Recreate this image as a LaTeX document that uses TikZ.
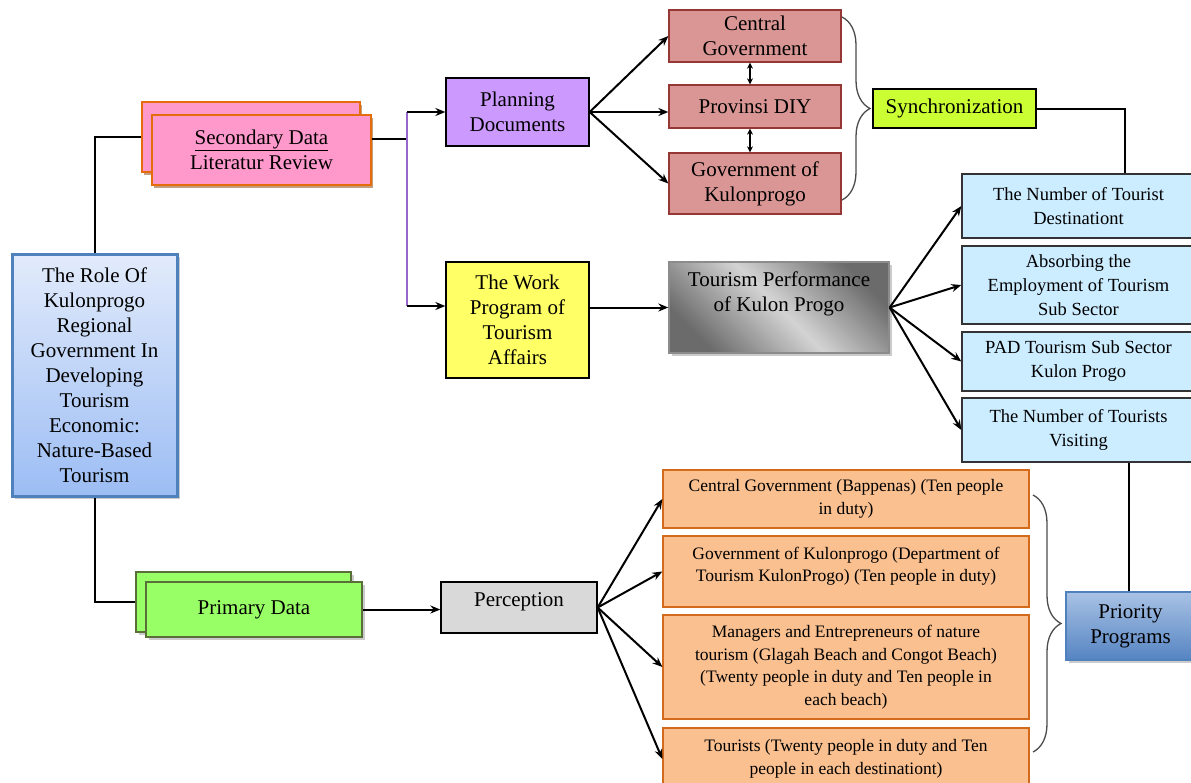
\documentclass[tikz,border=0pt]{standalone}
\usepackage{fontspec}
\setmainfont{Liberation Serif}
\usetikzlibrary{arrows.meta,shadows,decorations.pathreplacing,calc}
\definecolor{mainb}{HTML}{4F81BD}
\definecolor{maintop}{HTML}{E2EBFB}
\definecolor{mainbot}{HTML}{9CBDF4}
\definecolor{pinkf}{HTML}{FF99CC}
\definecolor{orgline}{HTML}{E46C0A}
\definecolor{greenf}{HTML}{99FF66}
\definecolor{greenl}{HTML}{5A6E3A}
\definecolor{purf}{HTML}{CC99FF}
\definecolor{purl}{HTML}{9966CC}
\definecolor{redf}{HTML}{D99694}
\definecolor{redl}{HTML}{953735}
\definecolor{syncf}{HTML}{CCFF33}
\definecolor{bluef}{HTML}{CCECFF}
\definecolor{yelf}{HTML}{FFFF66}
\definecolor{percf}{HTML}{D9D9D9}
\definecolor{orf}{HTML}{FAC090}
\definecolor{orl}{HTML}{D46A1C}
\definecolor{priotop}{HTML}{A9C2E5}
\definecolor{priobot}{HTML}{5584C2}
\begin{document}
\begin{tikzpicture}[x=1pt,y=-1pt,
  box/.style={draw=black, line width=1.3pt, align=center, inner sep=1pt,
    font=\fontsize{21}{25}\selectfont},
  bluebox/.style={box, fill=bluef, draw=black!80, font=\fontsize{18.5}{24}\selectfont},
  orbox/.style={box, fill=orf, draw=orl, font=\fontsize{17.5}{22.5}\selectfont},
  redbox/.style={box, fill=redf, draw=redl},
  shad/.style={drop shadow={shadow xshift=3pt, shadow yshift=-3pt, fill=black!40}},
  arr/.style={-{Stealth[length=10pt,width=8pt]}, line width=2pt},
  darr/.style={{Stealth[length=6pt,width=6pt]}-{Stealth[length=6pt,width=6pt]}, line width=1.6pt},
  conn/.style={line width=2pt},
  bracestyle/.style={decorate, decoration={brace, amplitude=28pt}, draw=black!70, line width=1.3pt}
]
\useasboundingbox (0,0) rectangle (1191,782);
\fill[white] (0,0) rectangle (1191,782);

% main box
\node[box, draw=mainb, line width=3pt, top color=maintop, bottom color=mainbot, shad,
  minimum width=165pt, minimum height=242pt] (main) at (94.5,375)
  {The Role Of\\Kulonprogo\\Regional\\Government In\\Developing\\Tourism\\Economic:\\Nature-Based\\Tourism};

% secondary data
\node[box, fill=pinkf, draw=orgline, drop shadow={shadow xshift=2pt, shadow yshift=-3pt, fill=orgline!60!black},
  minimum width=218pt, minimum height=70pt] (secB) at (251,137) {};
\node[box, fill=pinkf, draw=orgline, drop shadow={shadow xshift=2pt, shadow yshift=-3pt, fill=orgline!60!black},
  minimum width=219pt, minimum height=70pt] (secF) at (261.5,150)
  {\underline{Secondary Data}\\Literatur Review};

% primary data
\node[box, fill=greenf, draw=greenl, shad, minimum width=215pt, minimum height=60pt] (priB) at (243.5,602) {};
\node[box, fill=greenf, draw=greenl, shad, minimum width=216pt, minimum height=55pt] (priF) at (254,609.5) {Primary Data};

% planning and government
\node[box, fill=purf, minimum width=143pt, minimum height=68pt] (plan) at (517.5,112) {Planning\\Documents};
\node[redbox, minimum width=172pt, minimum height=52pt] (cg) at (755,36) {Central\\Government};
\node[redbox, minimum width=172pt, minimum height=43pt] (pd) at (755,106.5) {Provinsi DIY};
\node[redbox, minimum width=172pt, minimum height=61pt] (gk) at (755,183.5) {Government of\\Kulonprogo};
\node[box, fill=syncf, minimum width=163pt, minimum height=39pt] (sync) at (954.5,108.5) {Synchronization};

% work program & performance
\node[box, draw=black!45, shading=axis, top color=black!58, bottom color=black!58, middle color=black!17,
  shading angle=-45, shad, minimum width=220pt, minimum height=91pt] (tp) at (779,307.5)
  {Tourism Performance\\of Kulon Progo\\\strut};
\node[box, fill=yelf, minimum width=143pt, minimum height=116pt] (work) at (517.5,320) {The Work\\Program of\\Tourism\\Affairs};

% indicator boxes
\node[bluebox, minimum width=233pt, minimum height=64pt] (tn1) at (1078.5,206) {The Number of Tourist\\Destinationt};
\node[bluebox, minimum width=233pt, minimum height=78pt] (tn2) at (1078.5,285) {Absorbing the\\Employment of Tourism\\Sub Sector};
\node[bluebox, minimum width=233pt, minimum height=59pt] (tn3) at (1078.5,361.5) {PAD Tourism Sub Sector\\Kulon Progo};
\node[bluebox, minimum width=233pt, minimum height=64pt] (tn4) at (1078.5,430) {The Number of Tourists\\Visiting};

% perception
\node[box, fill=percf, minimum width=156pt, minimum height=51pt] (perc) at (519,607.5) {Perception\\[-10pt]\mbox{}};
\node[orbox, minimum width=366pt, minimum height=58pt] (ob1) at (846,499) {Central Government (Bappenas) (Ten people\\in duty)};
\node[orbox, minimum width=366pt, minimum height=71pt] (ob2) at (846,571.5) {Government of Kulonprogo (Department of\\Tourism KulonProgo) (Ten people in duty)\\[-8pt]\mbox{}};
\node[orbox, minimum width=366pt, minimum height=104pt] (ob3) at (846,667) {Managers and Entrepreneurs of nature\\tourism (Glagah Beach and Congot Beach)\\(Twenty people in duty and Ten people in\\each beach)};
\node[orbox, minimum width=366pt, minimum height=62pt] (ob4) at (846,759) {Tourists (Twenty people in duty and Ten\\people in each destinationt)};
\node[box, draw=mainb, line width=1.5pt, top color=priotop, bottom color=priobot, shad,
  minimum width=129pt, minimum height=68pt] (prio) at (1130.5,626) {Priority\\Programs};

% connectors from main box
\draw[conn] (main.north) |- (secB.west);
\draw[conn] (main.south) |- (priB.west);

% secondary to planning / work
\coordinate (jt) at (407,112);
\coordinate (jb) at (407,306);
\coordinate (secR) at ([yshift=11pt]secF.east);
\draw[conn] (secR) -- (secR -| jt);
\draw[conn, draw=purl, line width=2.4pt] (jt) -- (jb);
\draw[arr] (jt) -- (plan.west |- jt);
\draw[arr] (jb) -- (work.west |- jb);

% planning to governments
\draw[arr] (plan.east) -- (cg.west);
\draw[arr] (plan.east) -- (plan.east -| pd.west);
\draw[arr] (plan.east) -- (gk.west);
\draw[darr] ([xshift=-5pt]cg.south) -- ([xshift=-5pt]pd.north);
\draw[darr] ([xshift=-5pt]pd.south) -- ([xshift=-5pt]gk.north);

% brace to synchronization
\draw[bracestyle] (842,17) -- (842,200);
\coordinate (syncdown) at ([xshift=46pt]tn1.north);
\draw[conn] (sync.east) -| (syncdown);

% work to performance
\draw[arr] (work.east |- tp.west) -- (tp.west);
\draw[arr] (tp.east) -- (tn1.west);
\draw[arr] (tp.east) -- (tn2.west);
\draw[arr] (tp.east) -- (tn3.west);
\draw[arr] (tp.east) -- (tn4.west);

% primary to perception
\draw[arr] (priF.east) -- (perc.west |- priF.east);
\draw[arr] (perc.east) -- (ob1.west);
\draw[arr] (perc.east) -- (ob2.west);
\draw[arr] (perc.east) -- (ob3.west);
\draw[arr] (perc.east) -- (ob4.west);

% brace to priority
\draw[bracestyle] (1033,495) -- (1033,752);
\coordinate (priotop) at ([xshift=-2pt]prio.north);
\draw[conn] (priotop) -- (priotop |- tn4.south);
\end{tikzpicture}
\end{document}
